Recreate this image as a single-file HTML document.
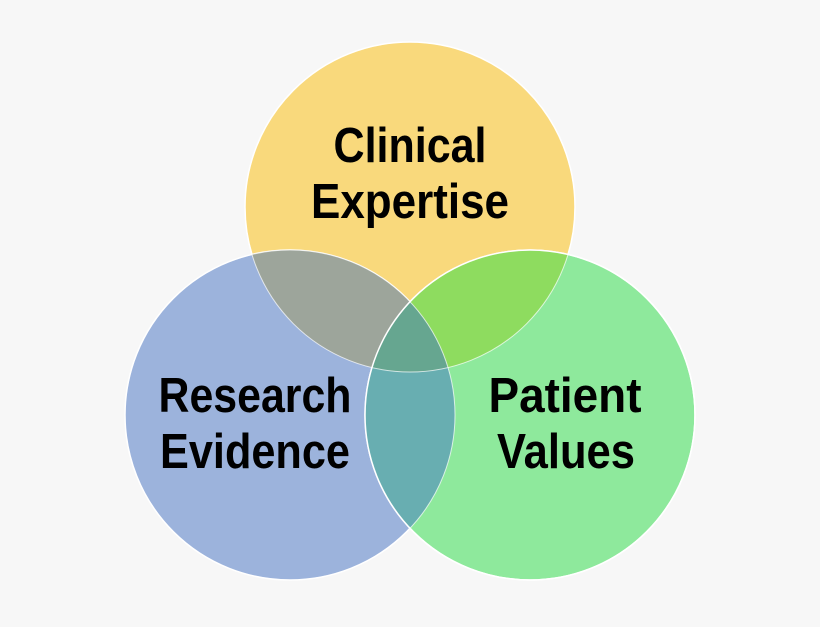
<!DOCTYPE html>
<html><head><style>html,body{margin:0;padding:0;background:#f7f7f7}</style></head>
<body>
<svg width="820" height="622" viewBox="0 0 820 622" xmlns="http://www.w3.org/2000/svg">
<defs>
<clipPath id="cT"><circle cx="410" cy="207" r="165"/></clipPath>
<clipPath id="cL"><circle cx="290" cy="415" r="165"/></clipPath>
<clipPath id="cR"><circle cx="530" cy="415" r="165"/></clipPath>
</defs>
<rect width="820" height="622" fill="#f7f7f7"/>
<circle cx="410" cy="207" r="165" fill="#f9d97c" stroke="#fff" stroke-width="1.5"/>
<circle cx="290" cy="415" r="165" fill="#9cb3dc" stroke="#fff" stroke-width="1.5"/>
<circle cx="530" cy="415" r="165" fill="#8ee99c" stroke="#fff" stroke-width="1.5"/>
<g clip-path="url(#cT)"><circle cx="290" cy="415" r="165" fill="#9da59b"/><circle cx="530" cy="415" r="165" fill="#8edc5f"/></g>
<g clip-path="url(#cL)"><circle cx="530" cy="415" r="165" fill="#68aeb1"/></g>
<g clip-path="url(#cT)"><g clip-path="url(#cL)"><circle cx="530" cy="415" r="165" fill="#66a690"/></g></g>
<circle cx="410" cy="207" r="165" fill="none" stroke="#fff" stroke-width="1" opacity="0.7"/>
<circle cx="290" cy="415" r="165" fill="none" stroke="#fff" stroke-width="1" opacity="0.7"/>
<circle cx="530" cy="415" r="165" fill="none" stroke="#fff" stroke-width="1.5"/>
<g font-family="Liberation Sans, sans-serif" font-weight="bold" font-size="49" fill="#000" text-anchor="middle">
<text x="410" y="162" textLength="153" lengthAdjust="spacingAndGlyphs">Clinical</text>
<text x="410" y="218" textLength="198" lengthAdjust="spacingAndGlyphs">Expertise</text>
<text x="255" y="412" textLength="193" lengthAdjust="spacingAndGlyphs">Research</text>
<text x="255" y="468" textLength="190" lengthAdjust="spacingAndGlyphs">Evidence</text>
<text x="565" y="412" textLength="153" lengthAdjust="spacingAndGlyphs">Patient</text>
<text x="566" y="468" textLength="138" lengthAdjust="spacingAndGlyphs">Values</text>
</g>
</svg>
</body></html>
